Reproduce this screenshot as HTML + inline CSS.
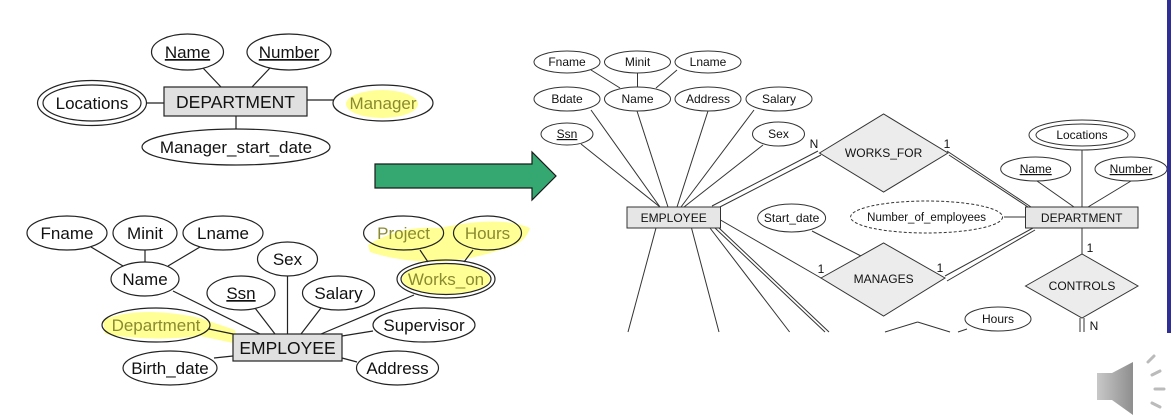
<!DOCTYPE html>
<html><head><meta charset="utf-8"><style>
html,body{margin:0;padding:0;background:#fff;width:1171px;height:415px;overflow:hidden}
svg{display:block}
text{font-family:"Liberation Sans",sans-serif;fill:#111}
</style></head><body>
<svg width="1171" height="415" viewBox="0 0 1171 415" xmlns="http://www.w3.org/2000/svg">
<g fill="#ffff40" opacity="0.55">
<ellipse cx="382" cy="104" rx="36" ry="14"/>
<path d="M368 245 Q400 225 440 228 Q500 215 530 228 Q525 245 500 250 Q470 260 440 262 Q400 262 370 252Z"/>
<ellipse cx="446" cy="279" rx="44" ry="15"/>
<path d="M103 320 Q140 305 200 318 L235 330 L238 344 L200 336 Q150 342 105 334Z"/>
</g>
<g stroke="#222" stroke-width="1.2" fill="none">
<line x1="203" y1="68" x2="221" y2="87"/><line x1="270" y1="68" x2="252" y2="87"/>
<line x1="146" y1="103" x2="164" y2="103"/><line x1="307" y1="100" x2="334" y2="100"/>
<line x1="236" y1="116" x2="236" y2="129"/>
<ellipse cx="187.5" cy="52" rx="36" ry="18" fill="#fff"/>
<ellipse cx="289" cy="52" rx="42" ry="18" fill="#fff"/>
<ellipse cx="92" cy="103" rx="54.5" ry="22.5" fill="#fff"/>
<ellipse cx="92" cy="103" rx="49" ry="18"/>
<ellipse cx="383" cy="103" rx="50" ry="18"/>
<ellipse cx="236" cy="147" rx="94" ry="18" fill="#fff"/>
<rect x="164" y="87" width="143" height="29" fill="#e0e0e0"/>
<line x1="91" y1="247" x2="123" y2="266"/><line x1="145" y1="250" x2="145" y2="262"/><line x1="200" y1="247" x2="168" y2="266"/>
<line x1="173" y1="291" x2="260" y2="334"/><line x1="255" y1="308" x2="275" y2="334"/>
<line x1="287.5" y1="276" x2="287.5" y2="334"/><line x1="321" y1="308" x2="301" y2="334"/>
<line x1="414" y1="295" x2="321" y2="334"/><line x1="373" y1="331" x2="342" y2="336"/>
<line x1="357" y1="362" x2="342" y2="358"/><line x1="214" y1="358" x2="233" y2="356"/>
<line x1="209" y1="329" x2="233" y2="334"/>
<line x1="420" y1="250" x2="428" y2="262"/><line x1="473" y1="250" x2="464" y2="262"/>
<ellipse cx="67" cy="233" rx="40" ry="17" fill="#fff"/>
<ellipse cx="145" cy="233" rx="32" ry="17" fill="#fff"/>
<ellipse cx="223" cy="233" rx="40" ry="17" fill="#fff"/>
<ellipse cx="145" cy="279" rx="34" ry="17" fill="#fff"/>
<ellipse cx="287.5" cy="259" rx="30" ry="17" fill="#fff"/>
<ellipse cx="241" cy="293" rx="34" ry="17" fill="#fff"/>
<ellipse cx="338.5" cy="293" rx="36" ry="17" fill="#fff"/>
<ellipse cx="403.6" cy="233" rx="40" ry="17"/>
<ellipse cx="487.5" cy="233" rx="34" ry="17"/>
<ellipse cx="446" cy="279" rx="49" ry="19"/>
<ellipse cx="446" cy="279" rx="45" ry="15.5"/>
<ellipse cx="156" cy="325" rx="54" ry="17"/>
<ellipse cx="424" cy="325" rx="51" ry="17" fill="#fff"/>
<ellipse cx="170" cy="368" rx="47" ry="17" fill="#fff"/>
<ellipse cx="397.5" cy="368" rx="41" ry="17" fill="#fff"/>
<rect x="233" y="334" width="109" height="27" fill="#e0e0e0"/>
</g>
<g font-size="17" text-anchor="middle">
<text x="187.5" y="58" text-decoration="underline">Name</text>
<text x="289" y="58" text-decoration="underline">Number</text>
<text x="92" y="109">Locations</text>
<text x="235.5" y="108" font-size="17.5">DEPARTMENT</text>
<text x="383" y="109" style="fill:#8a8a30">Manager</text>
<text x="236" y="153">Manager_start_date</text>
<text x="67" y="239">Fname</text><text x="145" y="239">Minit</text><text x="223" y="239">Lname</text>
<text x="145" y="285">Name</text><text x="287.5" y="265">Sex</text>
<text x="241" y="299" text-decoration="underline">Ssn</text><text x="338.5" y="299">Salary</text>
<text x="403.6" y="239" style="fill:#8a8a30">Project</text><text x="487.5" y="239" style="fill:#8a8a30">Hours</text>
<text x="446" y="285" style="fill:#8a8a30">Works_on</text>
<text x="156" y="331" style="fill:#8a8a30">Department</text><text x="424" y="331">Supervisor</text>
<text x="287.5" y="354" font-size="17.5">EMPLOYEE</text>
<text x="170" y="374">Birth_date</text><text x="397.5" y="374">Address</text>
</g>
<polygon points="375,164 532,164 532,152 556,176 532,200 532,188 375,188" fill="#35a872" stroke="#1a1a1a" stroke-width="1.2"/>
<g stroke="#333" stroke-width="1" fill="none">
<line x1="656" y1="228" x2="628" y2="332"/><line x1="691.5" y1="228" x2="719" y2="332"/>
<line x1="710" y1="228" x2="789.6" y2="332"/>
<line x1="715" y1="228" x2="825" y2="332"/><line x1="719" y1="228" x2="829" y2="332"/>
<line x1="720.5" y1="220" x2="821" y2="278"/>
<line x1="712" y1="206" x2="818" y2="151"/><line x1="716" y1="209" x2="821" y2="155"/>
<line x1="947" y1="151" x2="1031" y2="207"/><line x1="949" y1="155" x2="1028" y2="207"/>
<line x1="1033" y1="228" x2="945" y2="276"/><line x1="1035" y1="230" x2="947" y2="281"/>
<line x1="1082" y1="228" x2="1082" y2="254"/>
<line x1="1080" y1="318" x2="1080" y2="332"/><line x1="1084" y1="318" x2="1084" y2="332"/>
<line x1="591" y1="110" x2="660" y2="207"/><line x1="637" y1="111" x2="668" y2="207"/>
<line x1="708" y1="111" x2="677" y2="207"/><line x1="754" y1="110" x2="681" y2="207"/>
<line x1="581" y1="144" x2="660" y2="207"/><line x1="763" y1="145" x2="684" y2="207"/>
<line x1="591" y1="70" x2="620" y2="88"/><line x1="637.5" y1="73" x2="637.5" y2="88"/><line x1="677" y1="70" x2="656" y2="88"/>
<line x1="1004" y1="217" x2="1025.5" y2="217"/>
<line x1="812" y1="231" x2="861" y2="256"/>
<line x1="967" y1="329" x2="958" y2="332"/>
<line x1="1082" y1="150" x2="1082" y2="207"/>
<line x1="1037" y1="181" x2="1074" y2="207"/><line x1="1131" y1="181" x2="1088" y2="207"/>
<line x1="885" y1="332" x2="917.6" y2="322"/><line x1="917.6" y1="322" x2="950" y2="332"/>
<ellipse cx="567" cy="62" rx="33" ry="11" fill="#fff"/>
<ellipse cx="637.5" cy="62" rx="33" ry="11" fill="#fff"/>
<ellipse cx="708" cy="62" rx="33" ry="11" fill="#fff"/>
<ellipse cx="567" cy="99" rx="33" ry="12" fill="#fff"/>
<ellipse cx="637.5" cy="99" rx="33" ry="12" fill="#fff"/>
<ellipse cx="708" cy="99" rx="33" ry="12" fill="#fff"/>
<ellipse cx="779" cy="99" rx="33" ry="12" fill="#fff"/>
<ellipse cx="567" cy="134" rx="26" ry="11" fill="#fff"/>
<ellipse cx="778.5" cy="134" rx="26" ry="12" fill="#fff"/>
<rect x="627" y="207" width="93.5" height="21" fill="#e6e6e6"/>
<polygon points="819.5,153 883.6,114 948,153 883.6,192" fill="#ececec"/>
<ellipse cx="1082" cy="135" rx="53" ry="15" fill="#fff"/>
<ellipse cx="1082" cy="135" rx="46" ry="11"/>
<ellipse cx="1035.7" cy="169" rx="35" ry="12" fill="#fff"/>
<ellipse cx="1131" cy="169" rx="36" ry="12" fill="#fff"/>
<rect x="1025.5" y="207" width="112.5" height="21" fill="#e6e6e6"/>
<ellipse cx="926.6" cy="217" rx="76" ry="16" fill="#fff" stroke-dasharray="3,2"/>
<ellipse cx="791.6" cy="218" rx="34" ry="14" fill="#fff"/>
<polygon points="821,278 883.6,243 945,278 883.6,316" fill="#ececec"/>
<polygon points="1025.5,286 1082,254 1138,286 1082,318" fill="#ececec"/>
<ellipse cx="998" cy="319" rx="33" ry="12" fill="#fff"/>
</g>
<g font-size="12" text-anchor="middle">
<text x="567" y="66">Fname</text><text x="637.5" y="66">Minit</text><text x="708" y="66">Lname</text>
<text x="567" y="103">Bdate</text><text x="637.5" y="103">Name</text><text x="708" y="103">Address</text><text x="779" y="103">Salary</text>
<text x="567" y="138" text-decoration="underline">Ssn</text><text x="778.5" y="138">Sex</text>
<text x="673.7" y="222">EMPLOYEE</text>
<text x="883.6" y="157">WORKS_FOR</text>
<text x="1082" y="139">Locations</text>
<text x="1035.7" y="173" text-decoration="underline">Name</text><text x="1131" y="173" text-decoration="underline">Number</text>
<text x="1081.7" y="222">DEPARTMENT</text>
<text x="926.6" y="221" font-size="11.5">Number_of_employees</text>
<text x="791.6" y="222">Start_date</text>
<text x="883.6" y="283">MANAGES</text>
<text x="1082" y="290">CONTROLS</text>
<text x="998" y="323">Hours</text>
<text x="814" y="148">N</text><text x="947" y="148">1</text>
<text x="821" y="273">1</text><text x="940" y="272">1</text>
<text x="1090" y="252">1</text><text x="1094" y="330">N</text>
</g>
<rect x="1167" y="0" width="4" height="333" fill="#2e2e96"/>
<defs><linearGradient id="g" x1="0" x2="1"><stop offset="0" stop-color="#c8c8c8"/><stop offset="1" stop-color="#8e8e8e"/></linearGradient></defs>
<polygon points="1097,373 1112,373 1133,362 1133,415 1112,400 1097,400" fill="url(#g)"/>
<g stroke="#bbb" stroke-width="3" stroke-linecap="round" fill="none">
<line x1="1148" y1="362" x2="1154" y2="356"/><line x1="1152" y1="375" x2="1160" y2="371"/>
<line x1="1155" y1="389" x2="1164" y2="389"/><line x1="1152" y1="403" x2="1160" y2="407"/>
</g>
</svg>
</body></html>
